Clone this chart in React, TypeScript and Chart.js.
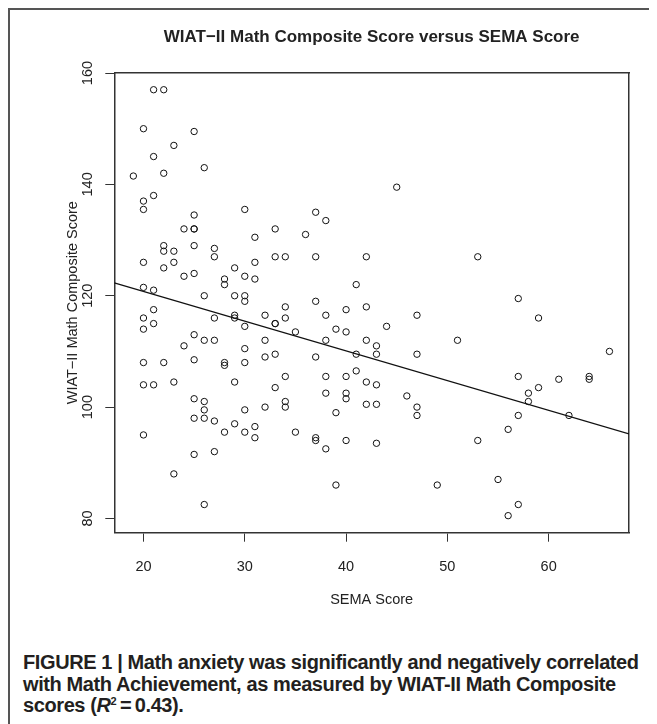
import React, { useEffect, useRef } from "react";
import { Chart, registerables } from "chart.js";

Chart.register(...registerables);

// ---- data ----
const SEMA_SCORES = [
  21, 22, 20, 25, 23, 21, 26, 22, 19, 21, 20, 20, 25, 30, 45, 37, 38,
  24, 25, 25, 31, 25, 22, 22, 23, 27, 27, 20, 23, 31, 22, 29, 25, 24, 30, 31, 28, 28, 20, 21, 26, 29, 30, 30, 21, 20, 21, 27, 29, 29, 30, 20, 25, 26, 27, 24, 30, 20, 22, 25, 28, 28, 30,
  20, 21, 23, 29, 25, 26, 26, 30, 25, 26, 27, 29, 31, 28, 30, 31, 20, 25, 27, 23, 26,
  33, 36, 33, 34, 37, 42, 41, 37, 34, 42, 40, 32, 38, 47, 34, 33, 33, 44, 39, 40, 35, 32, 38, 42, 43, 32, 33, 37, 41, 43, 47,
  41, 34, 38, 40, 33, 42, 43, 38, 40, 40, 46, 47, 47, 32, 34, 34, 42, 43, 39, 35, 37, 37, 38, 40, 43, 39, 49,
  53, 57, 59, 51, 66,
  57, 61, 64, 64, 59, 58, 58, 57, 62, 56, 53, 55, 57, 56,
];
const WIAT_SCORES = [
  157, 157, 150, 149.5, 147, 145, 143, 142, 141.5, 138, 137, 135.5, 134.5, 135.5, 139.5, 135, 133.5,
  132, 132, 132, 130.5, 129, 129, 128, 128, 128.5, 127, 126, 126, 126, 125, 125, 124, 123.5, 123.5, 123, 123, 122, 121.5, 121, 120, 120, 120, 119, 117.5, 116, 115, 116, 116.5, 116, 114.5, 114, 113, 112, 112, 111, 110.5, 108, 108, 108.5, 108, 107.5, 108,
  104, 104, 104.5, 104.5, 101.5, 101, 99.5, 99.5, 98, 98, 97.5, 97, 96.5, 95.5, 95.5, 94.5, 95, 91.5, 92, 88, 82.5,
  132, 131, 127, 127, 127, 127, 122, 119, 118, 118, 117.5, 116.5, 116.5, 116.5, 116, 115, 115, 114.5, 114, 113.5, 113.5, 112, 112, 112, 111, 109, 109.5, 109, 109.5, 109.5, 109.5,
  106.5, 105.5, 105.5, 105.5, 103.5, 104.5, 104, 102.5, 102.5, 101.5, 102, 100, 98.5, 100, 101, 100, 100.5, 100.5, 99, 95.5, 94.5, 94, 92.5, 94, 93.5, 86, 86,
  127, 119.5, 116, 112, 110,
  105.5, 105, 105.5, 105, 103.5, 102.5, 101, 98.5, 98.5, 96, 94, 87, 82.5, 80.5,
];
const X_TICKS = [20, 30, 40, 50, 60];
const Y_TICKS = [80, 100, 120, 140, 160];
const X_RANGE = [17.12, 67.93];
const Y_RANGE = [77.44, 160.06];
const FIT_INTERCEPT = 131.43;
const FIT_SLOPE = -0.5334;

const TITLE = "WIAT\u2212II Math Composite Score versus SEMA Score";
const X_LABEL = "SEMA Score";
const Y_LABEL = "WIAT\u2212II Math Composite Score";

const FONT = "'Liberation Sans', Arial, Helvetica, sans-serif";
const CANVAS_W = 639;
const CANVAS_H = 605;

export default function App() {
  const ref = useRef<HTMLCanvasElement | null>(null);

  useEffect(() => {
    if (!ref.current) return;
    const points = SEMA_SCORES.map((x, i) => ({ x, y: WIAT_SCORES[i] }));
    const fit = X_RANGE.map((x) => ({ x, y: FIT_INTERCEPT + FIT_SLOPE * x }));
    const axisColor = "#222";
    const chart = new Chart(ref.current, {
      type: "scatter",
      data: {
        datasets: [
          {
            data: points,
            pointRadius: 3.2,
            pointBorderWidth: 1,
            pointBorderColor: "#111",
            pointBackgroundColor: "rgba(0,0,0,0)",
            showLine: false,
          },
          {
            data: fit,
            showLine: true,
            borderColor: "#111",
            borderWidth: 1.2,
            pointRadius: 0,
            fill: false,
          },
        ],
      },
      options: {
        responsive: false,
        animation: false,
        devicePixelRatio: 1,
        layout: { padding: 0 },
        plugins: {
          legend: { display: false },
          tooltip: { enabled: false },
          title: { display: false },
        },
        scales: {
          x: {
            type: "linear",
            position: "bottom",
            min: X_RANGE[0],
            max: X_RANGE[1],
            afterBuildTicks: (s: any) => {
              s.ticks = X_TICKS.map((v) => ({ value: v }));
            },
            afterFit: (s: any) => {
              s.height = CANVAS_H - 522.7;
            },
            ticks: { color: axisColor, font: { family: FONT, size: 14.5 }, padding: 17 },
            grid: {
              display: true,
              drawOnChartArea: false,
              drawTicks: true,
              tickLength: 9,
              color: "#333",
              lineWidth: 1,
            },
            border: { display: true, color: "#333", width: 1.5 },
            title: {
              display: true,
              text: X_LABEL,
              color: axisColor,
              font: { family: FONT, size: 14.5 },
              padding: { top: 0, bottom: 6.3 },
            },
          },
          x2: {
            type: "linear",
            position: "top",
            min: X_RANGE[0],
            max: X_RANGE[1],
            afterFit: (s: any) => {
              s.height = 62.7;
            },
            ticks: { display: false },
            grid: { display: false },
            border: { display: true, color: "#333", width: 1.5 },
            title: {
              display: true,
              text: TITLE,
              color: axisColor,
              font: { family: FONT, size: 17, weight: "bold" },
              padding: { top: 16.8, bottom: 0 },
            },
          },
          y: {
            type: "linear",
            position: "left",
            min: Y_RANGE[0],
            max: Y_RANGE[1],
            afterBuildTicks: (s: any) => {
              s.ticks = Y_TICKS.map((v) => ({ value: v }));
            },
            afterFit: (s: any) => {
              s.width = 104.3;
            },
            ticks: {
              color: axisColor,
              font: { family: FONT, size: 14.5 },
              minRotation: 90,
              maxRotation: 90,
              crossAlign: "center",
              padding: 5,
            },
            grid: {
              display: true,
              drawOnChartArea: false,
              drawTicks: true,
              tickLength: 9,
              color: "#333",
              lineWidth: 1,
            },
            border: { display: true, color: "#333", width: 1.5 },
            title: {
              display: true,
              text: Y_LABEL,
              color: axisColor,
              font: { family: FONT, size: 14.5 },
              padding: { top: 54.3, bottom: 0 },
            },
          },
          y2: {
            type: "linear",
            position: "right",
            min: Y_RANGE[0],
            max: Y_RANGE[1],
            afterFit: (s: any) => {
              s.width = 20;
            },
            ticks: { display: false },
            grid: { display: false },
            border: { display: true, color: "#333", width: 1.5 },
          },
        },
      } as any,
    });
    return () => chart.destroy();
  }, []);

  return (
    <div
      style={{
        position: "relative",
        width: 643,
        height: 716,
        boxSizing: "border-box",
        borderTop: "2px solid #555",
        borderLeft: "2px solid #555",
        borderRight: "2px solid #555",
        background: "#fff",
      }}
    >
      <canvas
        ref={ref}
        width={CANVAS_W}
        height={CANVAS_H}
        style={{ display: "block", width: CANVAS_W, height: CANVAS_H }}
      />
      <div
        style={{
          position: "absolute",
          left: 13,
          top: 642,
          fontFamily: FONT,
          fontWeight: "bold",
          fontSize: 20,
          letterSpacing: "-0.4px",
          lineHeight: "21.5px",
          color: "#231f20",
          whiteSpace: "nowrap",
        }}
      >
        FIGURE 1 | Math anxiety was significantly and negatively correlated
        <br />
        with Math Achievement, as measured by WIAT-II Math Composite
        <br />
        scores (<i>R</i>
        <sup style={{ fontSize: "0.55em", verticalAlign: "0.6em", lineHeight: 0 }}>2</sup>
        {"\u2009=\u20090.43)."}
      </div>
    </div>
  );
}
